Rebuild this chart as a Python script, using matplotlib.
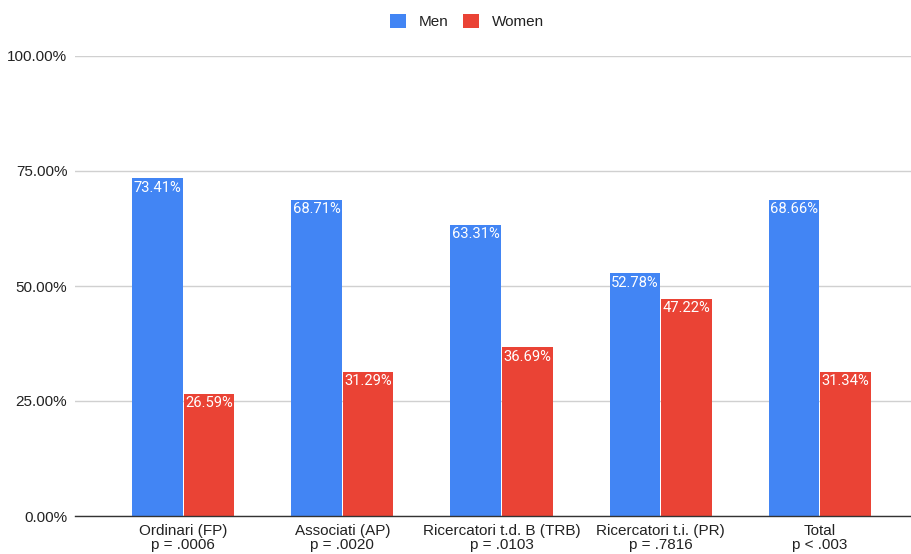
import matplotlib.pyplot as plt
import numpy as np

categories = ["Ordinari (FP)\np = .0006", "Associati (AP)\np = .0020",
              "Ricercatori t.d. B (TRB)\np = .0103", "Ricercatori t.i. (PR)\np = .7816",
              "Total\np < .003"]
men = [73.41, 68.71, 63.31, 52.78, 68.66]
women = [26.59, 31.29, 36.69, 47.22, 31.34]
yticks = [0, 25, 50, 75, 100]

blue = "#4285F4"
red = "#EA4335"

plt.rcParams['font.family'] = ['Liberation Sans', 'DejaVu Sans']

fig = plt.figure(figsize=(9.12, 5.54), dpi=100)
ax = fig.add_axes([75 / 912, 38 / 554, 1 - 75 / 912, 460 / 554])

x = np.arange(len(categories))
w = 0.318
b1 = ax.bar(x - w / 2 - 0.003, men, w, color=blue, label="Men", zorder=3)
b2 = ax.bar(x + w / 2 + 0.003, women, w, color=red, label="Women", zorder=3)

for bars, vals in ((b1, men), (b2, women)):
    for r, v in zip(bars, vals):
        ax.text(r.get_x() + r.get_width() / 2, v - 0.5, f"{v:.2f}%",
                ha="center", va="top", color="white", fontsize=10.6,
                family=["Roboto", "DejaVu Sans"], zorder=4)

ax.set_ylim(0, 100)
ax.set_xlim(-0.68, 4.58)
ax.set_yticks(yticks)
ax.set_yticklabels([f"{t:.2f}%" for t in yticks], fontsize=11)
ax.set_xticks(x)
ax.set_xticklabels(categories, linespacing=1.0, fontsize=11)
ax.tick_params(axis="both", length=0, colors="#222222")
ax.tick_params(axis="y", pad=5.5)
ax.tick_params(axis="x", pad=6)
ax.grid(axis="y", color="#d0d0d0", linewidth=1, zorder=0)
for s in ["top", "right", "left"]:
    ax.spines[s].set_visible(False)
ax.spines["bottom"].set_color("#333333")
ax.spines["bottom"].set_linewidth(1)
ax.spines["bottom"].set_zorder(5)

fig.legend(handles=[b1, b2], labels=["Men", "Women"], loc="upper center",
           bbox_to_anchor=(0.512, 1.0), ncol=2, frameon=False, fontsize=11,
           handlelength=1.05, handleheight=1.05, columnspacing=1.0,
           handletextpad=0.8, labelcolor="#222222")

fig.savefig("out.png", dpi=100)
